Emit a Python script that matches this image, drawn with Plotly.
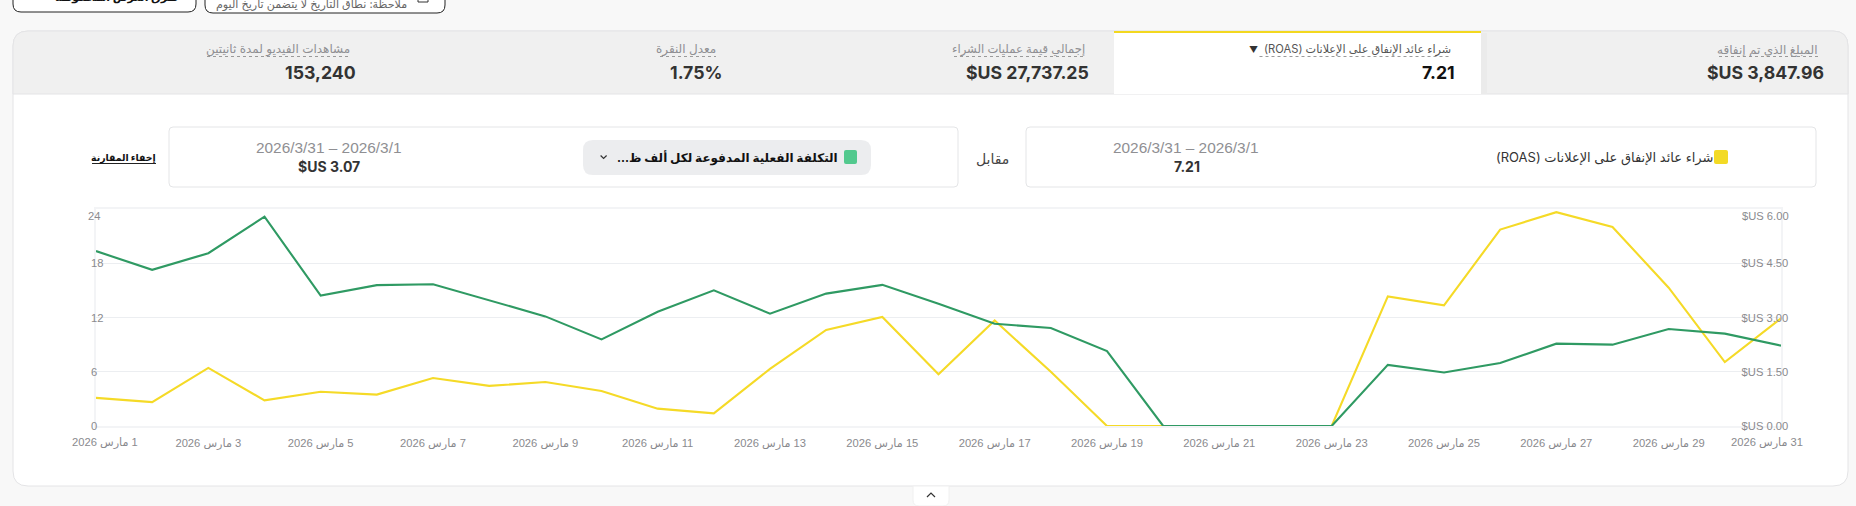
import plotly.graph_objects as go

WIDTH = 1856
HEIGHT = 506

days = list(range(1, 32))
roas = [0.78, 0.66, 1.61, 0.71, 0.95, 0.87, 1.33, 1.11, 1.22, 0.97, 0.48, 0.35, 1.58, 2.66, 3.02, 1.43,
        2.92, 1.50, 0.00, 0.00, 0.00, 0.00, 0.00, 3.59, 3.34, 5.44, 5.92, 5.51, 3.83, 1.77, 2.98]
cpm = [19.37, 17.30, 19.14, 23.18, 14.44, 15.60, 15.70, 13.92, 12.14, 9.59, 12.66, 15.03, 12.44, 14.66, 15.63,
       13.55, 11.33, 10.85, 8.29, 0.00, 0.00, 0.00, 0.00, 6.77, 5.92, 6.97, 9.12, 9.01, 10.75, 10.23, 8.90]

date_ticks = list(range(3, 30, 2))
date_labels = [f'\u200f{day} مارس 2026' for day in date_ticks]
first_label = '\u200f1 مارس 2026'
last_label = '\u200f31 مارس 2026'
grid_days = list(range(1, 32, 2))
left_ticks = [0, 6, 12, 18]
left_top = '24'
right_ticks = [0, 1.5, 3, 4.5]
right_labels = ['$US 0.00', '$US 1.50', '$US 3.00', '$US 4.50']
right_top = '$US 6.00'

# embedding marks keep the brackets and the Latin part in right-to-left order
ROAS_NAME = '\u202bشراء عائد الإنفاق على الإعلانات (ROAS)\u202c'
CPM_NAME = '\u202bالتكلفة الفعلية المدفوعة لكل ألف ظ...\u202c'
tab_labels = ['مشاهدات الفيديو لمدة ثانيتين', 'معدل النقرة', 'إجمالي قيمة عمليات الشراء',
              ROAS_NAME, 'المبلغ الذي تم إنفاقه']
tab_values = ['153,240', '1.75%', '$US 27,737.25', '7.21', '$US 3,847.96']
tab_label_right = [349.5, 716, 1085, 1450.5, 1818]
tab_value_right = [356, 722, 1089, 1455, 1824]
tab_label_left = [207, 660, 954, 1259.5, 1719]
tab_label_size = [12, 12, 11.6, 11.2, 12]

GREY_TEXT = '#8f8f93'
TICK_TEXT = '#8a8a8e'
GRID = '#eceef1'
EDGE = '#f3f4f6'
GREEN = '#2f9a63'
YELLOW = '#f5da27'
TICK_SIZE = 11.2
FONT = 'Inter, Roboto, DejaVu Sans, sans-serif'
TICK_FONT = 'Liberation Sans, DejaVu Sans, sans-serif'


def px(x):
    return x / WIDTH


def py(y):
    return 1 - y / HEIGHT


def box_path(x0, y0, x1, y1, top=0, bottom=0):
    """Path in paper units for a box with rounded top and bottom corners."""
    return (f'M {px(x0)} {py(y0 + top)} Q {px(x0)} {py(y0)} {px(x0 + top)} {py(y0)} '
            f'L {px(x1 - top)} {py(y0)} Q {px(x1)} {py(y0)} {px(x1)} {py(y0 + top)} '
            f'L {px(x1)} {py(y1 - bottom)} Q {px(x1)} {py(y1)} {px(x1 - bottom)} {py(y1)} '
            f'L {px(x0 + bottom)} {py(y1)} Q {px(x0)} {py(y1)} {px(x0)} {py(y1 - bottom)} Z')


def box(x0, y0, x1, y1, fill, line='rgba(0,0,0,0)', width=1, top=0, bottom=0):
    return dict(type='path', xref='paper', yref='paper', layer='below', path=box_path(x0, y0, x1, y1, top, bottom),
                fillcolor=fill, line=dict(color=line, width=width))


def rule(x0, y0, x1, y1, color, width=1, dash='solid'):
    return dict(type='line', xref='paper', yref='paper', layer='below', x0=px(x0), x1=px(x1), y0=py(y0), y1=py(y1),
                line=dict(color=color, width=width, dash=dash))


def chevron(x, y, half, rise, color='#333333'):
    """Small open arrow head, pointing up if rise is positive."""
    return dict(type='path', xref='paper', yref='paper', layer='below',
                path=f'M {px(x - half)} {py(y + rise)} L {px(x)} {py(y - rise)} L {px(x + half)} {py(y + rise)}',
                line=dict(color=color, width=1.2))


def text(x, y, label, size=13, color='#333333', anchor='right', font=FONT):
    return dict(xref='paper', yref='paper', x=px(x), y=py(y), text=label, showarrow=False, xanchor=anchor,
                yanchor='middle', font=dict(size=size, color=color, family=font), borderpad=0, borderwidth=0)


shapes = [
    # buttons cut off by the top of the page
    box(13, -20, 196, 12, '#ffffff', '#222222', 1, 8, 8),
    box(205, -20, 445, 13, '#ffffff', '#222222', 1, 8, 8),
    box(418, -6, 428, 2, '#ffffff', '#333333', 1),
    # card and its tab strip
    box(13, 31, 1848, 486, '#ffffff', '#e4e4e6', 1, 15, 15),
    box(13, 31, 1848, 94, '#f0f0f0', '#e4e4e6', 1, 15, 0),
    box(1114, 31, 1481, 94, '#ffffff'),
    box(1481, 33, 1487, 94, '#ebebeb'),
    box(1114, 31, 1481, 33, '#f3d81f'),
    # comparison boxes
    box(1026, 127, 1816, 187, '#ffffff', '#e4e5e7', 1, 4, 4),
    box(169, 127, 958, 187, '#ffffff', '#e4e5e7', 1, 4, 4),
    box(583, 140, 871, 175, '#ecedef', top=10, bottom=10),
    box(844, 150, 857, 164, '#52c98e', top=2, bottom=2),
    box(1714, 150, 1728, 164, '#f3da25', top=2, bottom=2),
    chevron(603.6, 157, 3, -1.5),
    # collapse handle
    box(913, 486, 949, 506, '#ffffff', '#f0f0f0', 1, 0, 6),
    chevron(931, 495, 4, 2),
]
for left, right in zip(tab_label_left, tab_label_right):
    shapes.append(rule(left, 56.5, right, 56.5, '#9a9a9a', 1, 'dot'))
shapes.append(rule(92, 163.5, 156, 163.5, '#222222', 1))

annotations = [
    text(407, 4.5, 'ملاحظة: نطاق التاريخ لا يتضمن تاريخ اليوم', 11.1, '#666666'),
    text(178, -3, '<b>طرق العرض المحفوظة</b>', 11, '#111111'),
    text(1009, 158.5, 'مقابل', 14, '#444444'),
    text(1713, 157, ROAS_NAME, 13, '#333333'),
    text(1259, 147.5, '2026/3/31 – 2026/3/1', 15.4, GREY_TEXT, font=TICK_FONT),
    text(1200, 166, '<b>7.21</b>', 14, '#333333'),
    text(838, 158, f'<b>{CPM_NAME}</b>', 12, '#111111'),
    text(402, 147.5, '2026/3/31 – 2026/3/1', 15.4, GREY_TEXT, font=TICK_FONT),
    text(360, 166, '<b>$US 3.07</b>', 14, '#333333'),
    text(156, 158, '<b>إخفاء المقارنة</b>', 9.3, '#111111'),
    text(1258, 49, '▼', 9, '#333333'),
    # end labels sit away from their ticks so that they stay inside the plot
    dict(xref='x', yref='paper', x=1, xshift=9, y=py(442.7), text=first_label, showarrow=False, yanchor='middle',
         font=dict(size=TICK_SIZE, color=TICK_TEXT, family=TICK_FONT)),
    dict(xref='x', yref='paper', x=31, xshift=-14, y=py(442.7), text=last_label, showarrow=False, yanchor='middle',
         font=dict(size=TICK_SIZE, color=TICK_TEXT, family=TICK_FONT)),
    text(88, 216, left_top, TICK_SIZE, TICK_TEXT, 'left', TICK_FONT),
    text(1789, 216, right_top, TICK_SIZE, TICK_TEXT, 'right', TICK_FONT),
]
for index, label in enumerate(tab_labels):
    active = index == 3
    annotations.append(text(tab_label_right[index], 49.5, label, tab_label_size[index],
                            '#555555' if active else GREY_TEXT))
    annotations.append(text(tab_value_right[index], 72, f'<b>{tab_values[index]}</b>', 17.7,
                            '#111111' if active else '#333333'))

fig = go.Figure()
fig.add_trace(go.Scatter(x=days, y=roas, mode='lines', yaxis='y', cliponaxis=False, hoverinfo='skip',
                         line=dict(color=YELLOW, width=2.1)))
fig.add_trace(go.Scatter(x=days, y=cpm, mode='lines', yaxis='y2', cliponaxis=False, hoverinfo='skip',
                         line=dict(color=GREEN, width=2.1)))
for day in grid_days:
    fig.add_vline(x=day, line=dict(color=GRID, width=1.2), layer='below')

fig.update_layout(
    width=WIDTH,
    height=HEIGHT,
    margin=dict(l=0, r=0, t=0, b=0),
    paper_bgcolor='#f8f8f8',
    plot_bgcolor='rgba(0,0,0,0)',
    showlegend=False,
    shapes=list(fig.layout.shapes) + shapes,
    annotations=annotations,
    xaxis=dict(domain=[px(96), px(1781)], range=[1, 31], tickvals=date_ticks, ticktext=date_labels, automargin=False,
               showgrid=False, zeroline=False, showline=True, mirror=True, linecolor=EDGE, linewidth=2,
               ticks='', ticklabelstandoff=6, tickangle=0,
               tickfont=dict(size=TICK_SIZE, color=TICK_TEXT, family=TICK_FONT)),
    yaxis=dict(domain=[py(426), py(209.3)], range=[0, 6], side='right', tickvals=right_ticks, automargin=False,
               ticktext=right_labels, showgrid=True, gridcolor=GRID, gridwidth=1.2, zeroline=False, showline=True,
               mirror=True, linecolor=EDGE, linewidth=2, ticks='', ticklabelposition='inside',
               ticklabeloverflow='allow', ticklabelstandoff=-8,
               tickfont=dict(size=TICK_SIZE, color=TICK_TEXT, family=TICK_FONT)),
    yaxis2=dict(domain=[py(426), py(209.3)], range=[0, 24], side='left', overlaying='y', tickvals=left_ticks,
                automargin=False, showgrid=False, zeroline=False, showline=False, ticks='',
                ticklabelposition='inside', ticklabeloverflow='allow', ticklabelstandoff=-8,
                tickfont=dict(size=TICK_SIZE, color=TICK_TEXT, family=TICK_FONT)),
)

fig.write_html('out.html', config=dict(displayModeBar=False),
               post_script="document.body.style.margin='0';document.body.style.background='#f8f8f8';")
